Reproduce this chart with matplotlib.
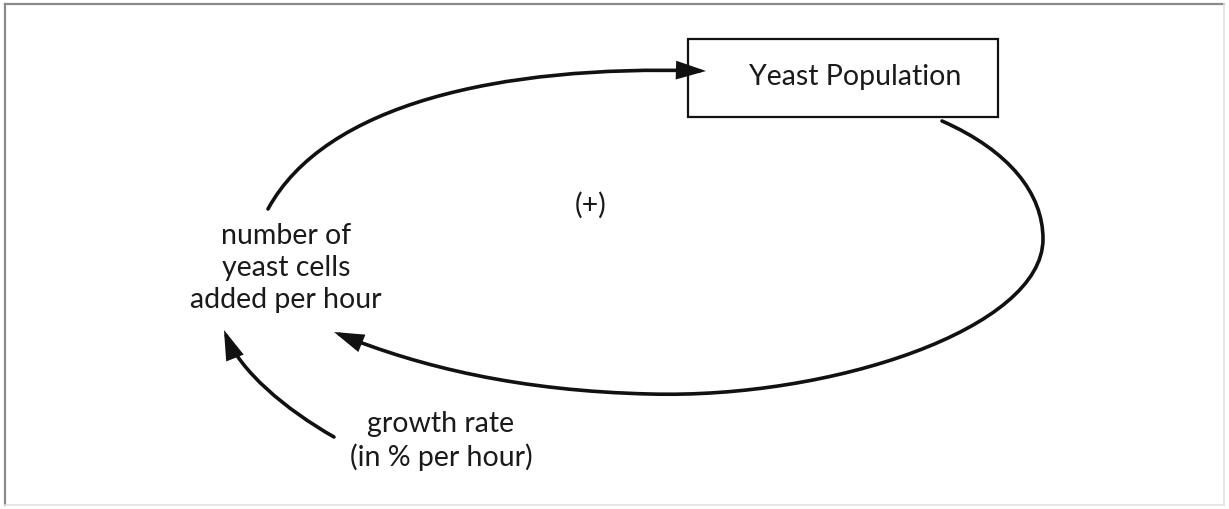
import matplotlib
matplotlib.use('Agg')
import matplotlib.pyplot as plt
from matplotlib.patches import FancyArrowPatch, Rectangle
from matplotlib.path import Path

plt.rcParams['font.family'] = ['Lato', 'DejaVu Sans']

W, H = 1229, 510

# nodes (pixel coords, y downwards)
stock_label = 'Yeast Population'
stock_box = (688, 40, 310, 78)   # x, y, w, h
stock_text_xy = (855, 77)
flow_label = 'number of\nyeast cells\nadded per hour'
flow_xy = (286, 268)
rate_label = 'growth rate\n(in % per hour)'
rate_xy = (441, 441)
loop_label = '(+)'
loop_xy = (591, 205)

# links as cubic bezier control points
link_flow_to_stock = [(268, 210), (325, 105), (500, 66), (706, 72)]
link_stock_to_flow = [(942, 122), (1010, 152), (1043, 195), (1043, 240),
                      (1043, 330), (830, 400), (650, 395),
                      (520, 392), (420, 368), (334, 333)]
link_rate_to_flow = [(334, 438), (285, 410), (240, 372), (224, 331)]

fig = plt.figure(figsize=(W / 100, H / 100), dpi=100)
ax = fig.add_axes([0, 0, 1, 1])
ax.set_xlim(0, W)
ax.set_ylim(H, 0)
ax.axis('off')

# outer frame
ax.plot([5, 1224], [5, 5], color='#8a8a8a', lw=1.6)
ax.plot([5, 5], [5, 506], color='#8a8a8a', lw=1.6)
ax.plot([1224, 1224], [5, 506], color='#e2e2e2', lw=1.2)
ax.plot([5, 1224], [506, 506], color='#e2e2e2', lw=1.2)


def curve(pts):
    codes = [Path.MOVETO] + [Path.CURVE4] * (len(pts) - 1)
    return Path(pts, codes)


arrow_kw = dict(arrowstyle='-|>,head_length=0.8,head_width=0.25',
                mutation_scale=20, color='#111111', lw=2.6,
                capstyle='round', joinstyle='miter')
for pts in [link_flow_to_stock, link_stock_to_flow, link_rate_to_flow]:
    ax.add_patch(FancyArrowPatch(path=curve(pts), **arrow_kw))

x, y, w, h = stock_box
ax.add_patch(Rectangle((x, y), w, h, fill=False, ec='#111111', lw=1.6))
ax.text(*stock_text_xy, stock_label, ha='center', va='center',
        fontsize=20.5, color='#1a1a1a')

ax.text(*flow_xy, flow_label, ha='center', va='center', fontsize=20.5,
        color='#1a1a1a', linespacing=1.27)
ax.text(*rate_xy, rate_label, ha='center', va='center', fontsize=20.5,
        color='#1a1a1a', linespacing=1.27)
ax.text(*loop_xy, loop_label, ha='center', va='center', fontsize=20.5,
        color='#1a1a1a')

plt.savefig('out.png', dpi=100, facecolor='white')
